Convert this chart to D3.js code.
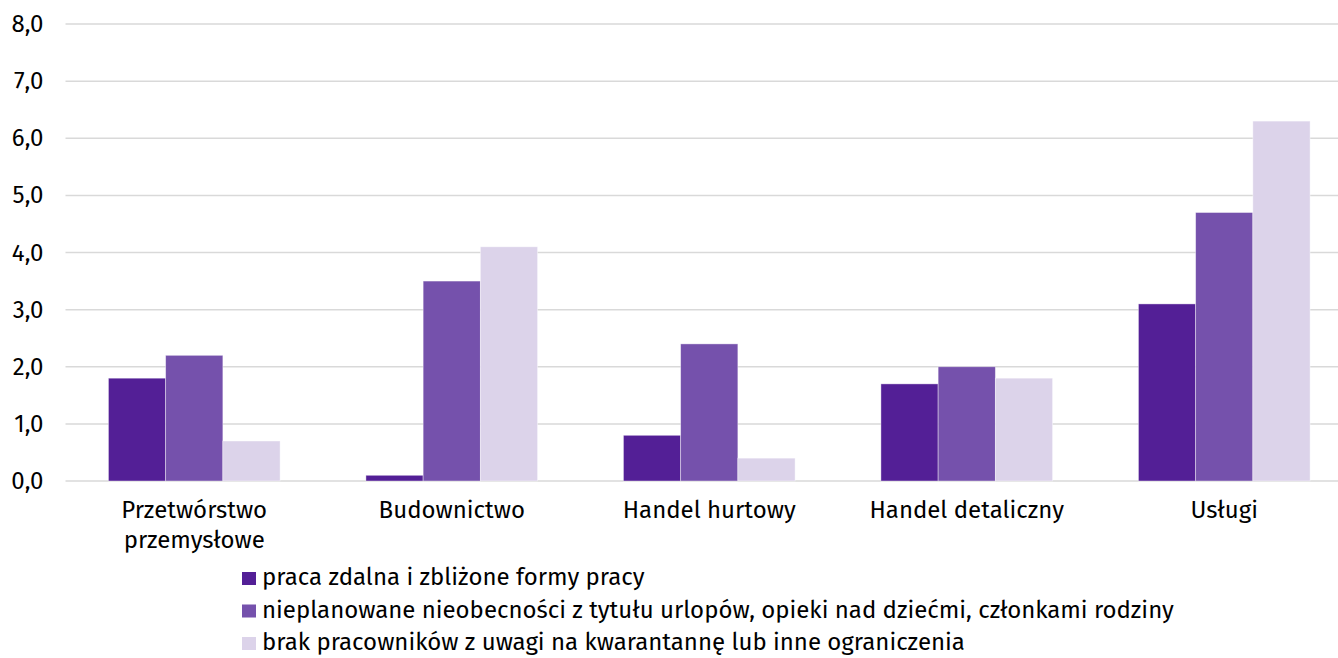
<!DOCTYPE html>
<html>
<head>
<meta charset="utf-8">
<script src="https://cdn.jsdelivr.net/npm/d3@7"></script>
<style>
  body { margin: 0; background: #fff; }
  svg { display: block; font-family: "Fira Sans", "Open Sans", sans-serif; }
</style>
</head>
<body>
<svg id="chart" width="1338" height="658"></svg>
<script>
// Categories and series
var Categories = ["Przetwórstwo\nprzemysłowe", "Budownictwo", "Handel hurtowy", "Handel detaliczny", "Usługi"];
var SeriesNames = [
    "praca zdalna i zbliżone formy pracy",
    "nieplanowane nieobecności z tytułu urlopów, opieki nad dziećmi, członkami rodziny",
    "brak pracowników z uwagi na kwarantannę lub inne ograniczenia"
];
var Remote = [1.8, 0.1, 0.8, 1.7, 3.1];
var Absence = [2.2, 3.5, 2.4, 2.0, 4.7];
var Quarantine = [0.7, 4.1, 0.4, 1.8, 6.3];
var YTicks = [0, 1, 2, 3, 4, 5, 6, 7, 8];
var Colors = ["#531f96", "#7551ac", "#dcd3ea"];

var SVG = d3.select("#chart");
var Margin = { Top: 24, Left: 65.5 };
var Width = 1353 - Margin.Left;
var Height = 481 - Margin.Top;
var Plot = SVG.append("g").attr("transform", `translate(${Margin.Left},${Margin.Top})`);

// Scales
var X = d3.scaleBand().domain(Categories).range([0, Width]).paddingInner(0).paddingOuter(0);
var Inner = d3.scaleBand().domain([0, 1, 2]).range([0, X.bandwidth()]).paddingInner(0).paddingOuter(0.75);
var Y = d3.scaleLinear().domain([0, 8]).range([Height, 0]);

// Gridlines
Plot.selectAll("line.grid").data(YTicks).enter().append("line")
    .attr("x1", 0).attr("x2", Width)
    .attr("y1", d => Y(d)).attr("y2", d => Y(d))
    .attr("stroke", "#d9d9d9").attr("stroke-width", 1.5);

// Y labels
var Format = d => d3.format(".1f")(d).replace(".", ",");
Plot.selectAll("text.ytick").data(YTicks).enter().append("text")
    .attr("x", -22).attr("y", d => Y(d) + 8)
    .attr("text-anchor", "end").attr("font-size", 24).attr("fill", "#000")
    .text(Format);

// Bars
var Series = [Remote, Absence, Quarantine];
Series.forEach((Values, S) => {
    Plot.selectAll(null).data(Values).enter().append("rect")
        .attr("x", (d, i) => X(Categories[i]) + Inner(S))
        .attr("width", Inner.bandwidth())
        .attr("y", d => Y(d))
        .attr("height", d => Y(0) - Y(d))
        .attr("fill", Colors[S])
        .attr("stroke", "#fff").attr("stroke-opacity", 0.5).attr("stroke-width", 0.8);
});

// Category labels
Categories.forEach(Name => {
    var Label = Plot.append("text")
        .attr("x", X(Name) + X.bandwidth() / 2).attr("y", Height + 37)
        .attr("text-anchor", "middle").attr("font-size", 24).attr("fill", "#000");
    Name.split("\n").forEach((Line, I) => {
        Label.append("tspan").attr("x", X(Name) + X.bandwidth() / 2).attr("dy", I ? 30 : 0).text(Line);
    });
});

// Legend
var Legend = SVG.append("g").attr("transform", "translate(242,585)");
SeriesNames.forEach((Name, I) => {
    var Row = Legend.append("g").attr("transform", `translate(0,${I * 32.5})`);
    Row.append("rect").attr("x", 0).attr("y", -13).attr("width", 14).attr("height", 13).attr("fill", Colors[I]);
    Row.append("text").attr("x", 20).attr("y", 0)
        .attr("font-size", 24).attr("fill", "#000").text(Name);
});
</script>
</body>
</html>
